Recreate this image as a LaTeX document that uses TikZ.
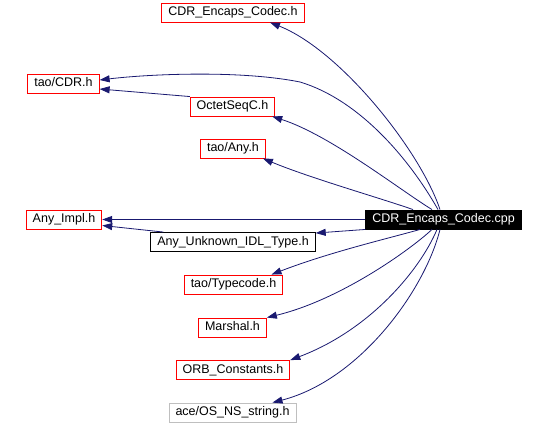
\documentclass[tikz,border=0pt]{standalone}
\usepackage{fontspec}
\setmainfont{Liberation Sans}
\usetikzlibrary{arrows.meta,positioning}
\definecolor{edgeblue}{RGB}{25,25,112}
\definecolor{extgrey}{RGB}{191,191,191}
\tikzset{
  >={Triangle[length=10pt,width=7pt]},
  file/.style={
    draw=red, line width=0.9pt,
    font=\fontsize{12.5}{14}\selectfont,
    inner xsep=6.5pt, inner ysep=0pt,
    text height=9pt, text depth=2.5pt,
    minimum height=19pt
  },
  nodoc/.style={
    file, draw=black
  },
  external/.style={
    file, draw=extgrey
  },
  current/.style={
    file, draw=black, fill=black, text=white
  },
  dep/.style={
    ->, draw=edgeblue, line width=0.8pt
  }
}
\begin{document}
\begin{tikzpicture}[x=1pt,y=-1pt]
  \useasboundingbox (0,0) rectangle (548,425);

  \node[current] (cpp) at (443.5,219.5) {CDR\_Encaps\_Codec.cpp};

  \node[file] (encapsh) at (233,12.5) {CDR\_Encaps\_Codec.h};
  \node[file] (cdrh) at (63.5,83.5) {tao/CDR.h};
  \node[file] (octet) at (232.5,106.5) {OctetSeqC.h};
  \node[file] (anyh) at (233,148.5) {tao/Any.h};
  \node[file] (anyimpl) at (64,219.5) {Any\_Impl.h};
  \node[nodoc] (unknown) at (233,242) {Any\_Unknown\_IDL\_Type.h};
  \node[file] (typecode) at (233.5,284.5) {tao/Typecode.h};
  \node[file] (marshal) at (232.5,327.5) {Marshal.h};
  \node[file] (orbconst) at (233,370) {ORB\_Constants.h};
  \node[external] (osstring) at (232.5,412.5) {ace/OS\_NS\_string.h};

  % upper fan
  \draw[dep] ([xshift=-3.5pt]cpp.north) .. controls (420,150) and (340,50) .. ([xshift=37pt]encapsh.south);
  \draw[dep] ([xshift=-5.5pt]cpp.north) .. controls (410,160) and (360,100) .. (300,82)
    .. controls (240,70) and (150,74) .. ([yshift=3.5pt]cdrh.east);
  \draw[dep] ([xshift=-11.5pt]cpp.north) .. controls (400,190) and (330,135) .. ([xshift=-3pt]octet.south east);
  \draw[dep] (octet.north west) -- ([yshift=-5.5pt]cdrh.east);
  \draw[dep] ([xshift=-30.5pt]cpp.north) .. controls (380,198) and (310,178) .. ([xshift=-3pt]anyh.south east);

  % middle
  \draw[dep] (cpp.west) -- (anyimpl.east);
  \draw[dep] (cpp.south west) -- ([yshift=-1pt]unknown.north east);
  \draw[dep] ([xshift=13pt]unknown.north west) -- ([yshift=-6pt]anyimpl.east);

  % lower fan
  \draw[dep] ([xshift=-23.5pt]cpp.south) .. controls (390,238) and (330,252) .. ([xshift=38pt]typecode.north);
  \draw[dep] ([xshift=-11.5pt]cpp.south) .. controls (410,250) and (340,300) .. (marshal.north east);
  \draw[dep] ([xshift=-6.5pt]cpp.south) .. controls (420,270) and (370,330) .. (orbconst.north east);
  \draw[dep] ([xshift=-3.5pt]cpp.south) .. controls (425,290) and (360,380) .. ([xshift=40pt]osstring.north);
\end{tikzpicture}
\end{document}
